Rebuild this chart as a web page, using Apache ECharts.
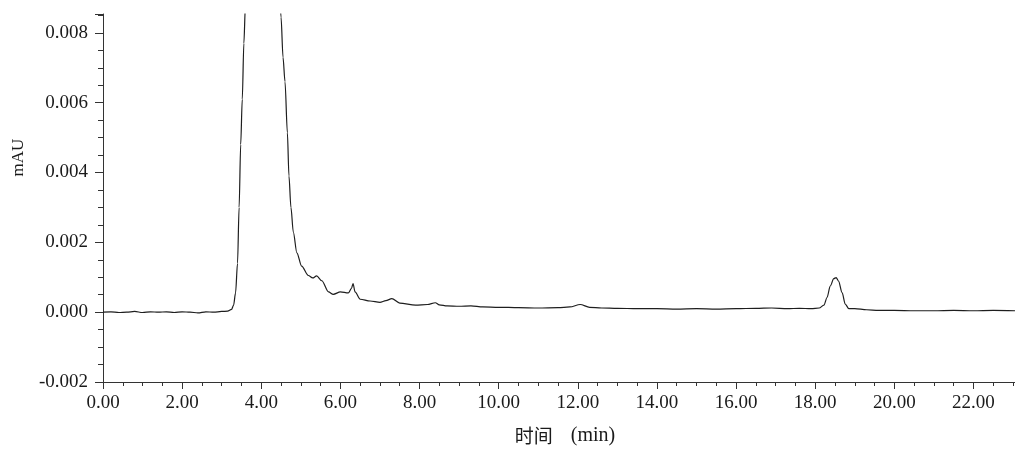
<!DOCTYPE html>
<html>
<head>
<meta charset="utf-8">
<script src="https://cdn.jsdelivr.net/npm/echarts@6/dist/echarts.min.js"></script>
<style>
html,body{margin:0;padding:0;background:#fff;}
#chart{width:1015px;height:451px;}
</style>
</head>
<body>
<div id="chart"></div>
<script>
// Retention time (min)
const times = [
  0.00, 0.20, 0.40, 0.60, 0.80, 1.00, 1.20, 1.40, 1.60, 1.80,
  2.00, 2.20, 2.40, 2.60, 2.80, 3.00, 3.15, 3.25, 3.30, 3.35,
  3.40, 3.44, 3.48, 3.52, 3.56, 3.60, 3.70, 3.85, 4.00, 4.20,
  4.35, 4.45, 4.50, 4.55, 4.60, 4.66, 4.70, 4.75, 4.81, 4.90,
  5.02, 5.19, 5.30, 5.40, 5.53, 5.70, 5.82, 6.00, 6.20, 6.28,
  6.32, 6.37, 6.50, 6.75, 7.00, 7.15, 7.30, 7.50, 7.90, 8.20,
  8.40, 8.50, 8.70, 9.00, 9.30, 9.60, 10.00, 10.50, 11.00, 11.50,
  11.80, 12.06, 12.30, 12.60, 13.00, 13.50, 14.00, 14.50, 15.00, 15.50,
  16.00, 16.50, 16.90, 17.30, 17.60, 17.90, 18.10, 18.22, 18.30, 18.38,
  18.47, 18.53, 18.59, 18.68, 18.76, 18.85, 19.00, 19.30, 19.60, 20.00,
  20.50, 21.00, 21.50, 22.00, 22.50, 23.05
];
// Detector signal (mAU)
const signal = [
  0.00000, 0.00001, -0.00001, 0.00000, 0.00002, -0.00001, 0.00001, 0.00000, 0.00001, -0.00001,
  0.00001, 0.00000, -0.00002, 0.00001, 0.00000, 0.00002, 0.00003, 0.00008, 0.00020, 0.00055,
  0.00140, 0.00300, 0.00480, 0.00610, 0.00770, 0.00880, 0.01150, 0.01400, 0.01500, 0.01450,
  0.01200, 0.00950, 0.00845, 0.00730, 0.00660, 0.00514, 0.00390, 0.00300, 0.00229, 0.00170,
  0.00132, 0.00105, 0.00098, 0.00104, 0.00090, 0.00058, 0.00051, 0.00058, 0.00055, 0.00068,
  0.00082, 0.00058, 0.00037, 0.00032, 0.00028, 0.00033, 0.00039, 0.00026, 0.00020, 0.00022,
  0.00027, 0.00021, 0.00018, 0.00017, 0.00018, 0.00015, 0.00014, 0.00013, 0.00012, 0.00013,
  0.00015, 0.00022, 0.00014, 0.00012, 0.00011, 0.00010, 0.00010, 0.00009, 0.00010, 0.00009,
  0.00010, 0.00011, 0.00012, 0.00010, 0.00011, 0.00010, 0.00012, 0.00020, 0.00042, 0.00075,
  0.00096, 0.00099, 0.00089, 0.00056, 0.00023, 0.00010, 0.00010, 0.00007, 0.00005, 0.00005,
  0.00004, 0.00004, 0.00005, 0.00004, 0.00005, 0.00004
];
const xAxisTitleCn = '时间';
const xAxisTitleEn = '(min)';
const yAxisTitle = 'mAU';

const serif = '"Liberation Serif", "DejaVu Serif", serif';
const chart = echarts.init(document.getElementById('chart'), null, {renderer: 'canvas'});
const axisColor = '#333';
chart.setOption({
  animation: false,
  backgroundColor: '#ffffff',
  grid: {left: 103, right: 0, top: 14, bottom: 68, containLabel: false},
  xAxis: {
    type: 'value',
    min: 0, max: 23.05, interval: 2,
    name: '{cn|' + xAxisTitleCn + '}{gap| }{en|' + xAxisTitleEn + '}',
    nameLocation: 'middle', nameGap: 44,
    nameTextStyle: {
      padding: [0, 0, 0, 12],
      rich: {
        cn: {fontFamily: '"Noto Sans CJK SC", sans-serif', fontSize: 19, color: '#1a1a1a'},
        gap: {width: 18, fontSize: 19},
        en: {fontFamily: serif, fontSize: 20, color: '#1a1a1a'}
      }
    },
    axisLine: {show: true, onZero: false, lineStyle: {color: axisColor, width: 1}},
    axisTick: {show: true, inside: false, length: 7, lineStyle: {color: axisColor}},
    minorTick: {show: true, splitNumber: 4, length: 4, lineStyle: {color: axisColor}},
    splitLine: {show: false},
    minorSplitLine: {show: false},
    axisLabel: {
      margin: 12, showMaxLabel: false,
      fontFamily: serif, fontSize: 19, color: '#1a1a1a',
      formatter: v => (Math.abs(v) < 1e-9 ? 0 : v).toFixed(2)
    }
  },
  yAxis: {
    type: 'value',
    min: -0.002, max: 0.00854, interval: 0.002,
    name: yAxisTitle,
    nameLocation: 'middle', nameGap: 76, nameRotate: 90,
    nameTextStyle: {fontFamily: serif, fontSize: 17, color: '#1a1a1a', padding: [0, 0, 0, 81]},
    axisLine: {show: true, onZero: false, lineStyle: {color: axisColor, width: 1}},
    axisTick: {show: true, inside: false, length: 8, lineStyle: {color: axisColor}},
    minorTick: {show: true, splitNumber: 4, length: 5, lineStyle: {color: axisColor}},
    splitLine: {show: false},
    minorSplitLine: {show: false},
    axisLabel: {
      margin: 15, showMaxLabel: false,
      fontFamily: serif, fontSize: 19, color: '#1a1a1a',
      formatter: v => (Math.abs(v) < 1e-9 ? 0 : v).toFixed(3)
    }
  },
  series: [{
    type: 'line',
    data: times.map((t, i) => [t, signal[i]]),
    showSymbol: false, symbol: 'none',
    smooth: 0.3, smoothMonotone: 'x',
    clip: true,
    lineStyle: {color: '#1e1e1e', width: 1.2}
  }]
});
</script>
</body>
</html>
